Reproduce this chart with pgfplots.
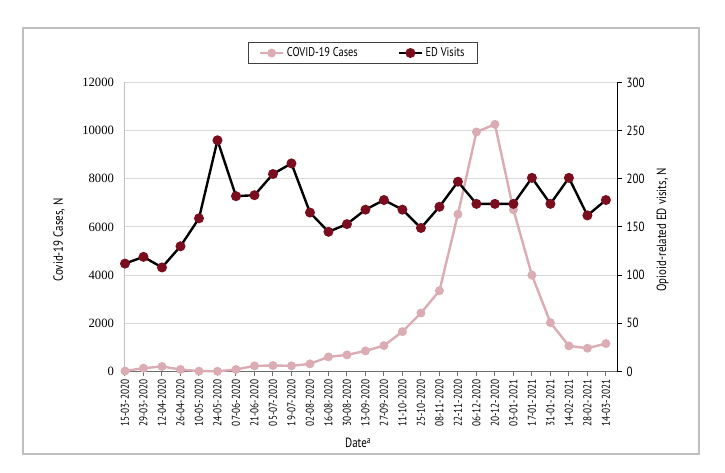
\documentclass[border=0pt]{standalone}
\usepackage{fontspec}
\setmainfont{PT Sans}[FakeStretch=0.82]
\newfontfamily\serifnum{Liberation Serif}
\usepackage{pgfplots}
\pgfplotsset{compat=1.18}
\definecolor{covid}{RGB}{219,172,180}
\definecolor{edred}{RGB}{122,14,30}
\definecolor{gridc}{RGB}{217,217,217}
\definecolor{framec}{RGB}{191,191,191}
\definecolor{axisc}{RGB}{110,110,110}

\pgfplotstableread{
x cases
0 20
1 137
2 207
3 83
4 14
5 10
6 83
7 234
8 248
9 234
10 317
11 606
12 689
13 855
14 1075
15 1655
16 2428
17 3352
18 6530
19 9945
20 10262
21 6716
22 4001
23 2028
24 1062
25 966
26 1159
}\casestable

\pgfplotstableread{
x ed
0 112
1 119
2 108
3 130
4 159
5 240
6 182
7 183
8 205
9 216
10 165
11 145
12 153
13 168
14 178
15 168
16 149
17 171
18 197
19 174
20 174
21 174
22 201
23 174
24 201
25 162
26 178
}\edtable

\begin{document}
\begin{tikzpicture}
\useasboundingbox[fill=white] (-93.75pt,-76.125pt) rectangle (450pt,278.625pt);
\draw[framec, line width=1.5pt] (-76.5pt,-61.9pt) rectangle (430.5pt,257.6pt);
\begin{axis}[
  at={(0pt,0pt)}, anchor=south west,
  scale only axis, width=369pt, height=216.75pt,
  xmin=0, xmax=26.6, ymin=0, ymax=12000,
  axis y line*=left, axis x line*=bottom,
  axis line style={line width=0.75pt},
  y axis line style={framec},
  x axis line style={axisc},
  xtick={0,...,26},
  xticklabels={15-03-2020,29-03-2020,12-04-2020,26-04-2020,10-05-2020,24-05-2020,07-06-2020,21-06-2020,05-07-2020,19-07-2020,02-08-2020,16-08-2020,30-08-2020,13-09-2020,27-09-2020,11-10-2020,25-10-2020,08-11-2020,22-11-2020,06-12-2020,20-12-2020,03-01-2021,17-01-2021,31-01-2021,14-02-2021,28-02-2021,14-03-2021},
  xtick style={axisc, line width=0.75pt},
  tick align=outside,
  major tick length=3.75pt,
  xticklabel style={rotate=90, anchor=east, font=\fontsize{8.5}{9}\selectfont, inner sep=2pt},
  ytick={0,2000,...,12000},
  scaled y ticks=false,
  ytick style={draw=none},
  yticklabel={\serifnum\fontsize{9.5}{10}\selectfont\pgfmathprintnumber[assume math mode=true,1000 sep={}]{\tick}},
  yticklabel style={xshift=-1pt},
  /pgf/number format/assume math mode=true,
  /pgf/number format/1000 sep={},
  ymajorgrids, grid style={gridc, line width=0.75pt},
  ylabel={Covid-19 Cases, N},
  ylabel style={at={(axis description cs:-0.134,0.455)}, anchor=center, rotate=0, font=\fontsize{10}{11}\selectfont},
  xlabel={Date\textsuperscript{a}},
  xlabel style={at={(axis description cs:0.474,-0.248)}, anchor=center, font=\fontsize{10}{11}\selectfont},
  clip=false,
]
\addplot[covid, line width=1.8pt, mark=*, mark size=2.4pt, mark options={fill=covid, draw=covid}] table[x=x, y=cases] {\casestable};
\end{axis}
\begin{axis}[
  at={(0pt,0pt)}, anchor=south west,
  scale only axis, width=369pt, height=216.75pt,
  xmin=0, xmax=26.6, ymin=0, ymax=300,
  axis y line*=right, axis x line=none,
  axis line style={line width=0.75pt, black},
  ytick={0,50,...,300},
  ytick style={black, line width=0.75pt},
  tick align=outside,
  major tick length=3.75pt,
  yticklabel style={font=\fontsize{10}{11}\selectfont},
  /pgf/number format/assume math mode=true,
  ylabel={Opioid-related ED visits, N},
  ylabel style={at={(axis description cs:1.093,0.49)}, anchor=center, rotate=0, font=\fontsize{10}{11}\selectfont},
  legend style={at={(axis description cs:0.484,1.102)}, anchor=center, legend columns=2, draw=black!75, line width=0.75pt, font=\fontsize{9.5}{11}\selectfont, inner xsep=8pt, inner ysep=2pt, /tikz/every even column/.append style={column sep=28pt}},
  clip=false,
]
\addlegendimage{covid, line width=1.8pt, mark=*, mark size=2.4pt, mark options={fill=covid, draw=covid}}
\addlegendentry{COVID-19 Cases}
\addplot[black, line width=1.8pt, mark=*, mark size=2.8pt, mark options={fill=edred, draw=edred}] table[x=x, y=ed] {\edtable};
\addlegendentry{ED Visits}
\end{axis}
\end{tikzpicture}
\end{document}
